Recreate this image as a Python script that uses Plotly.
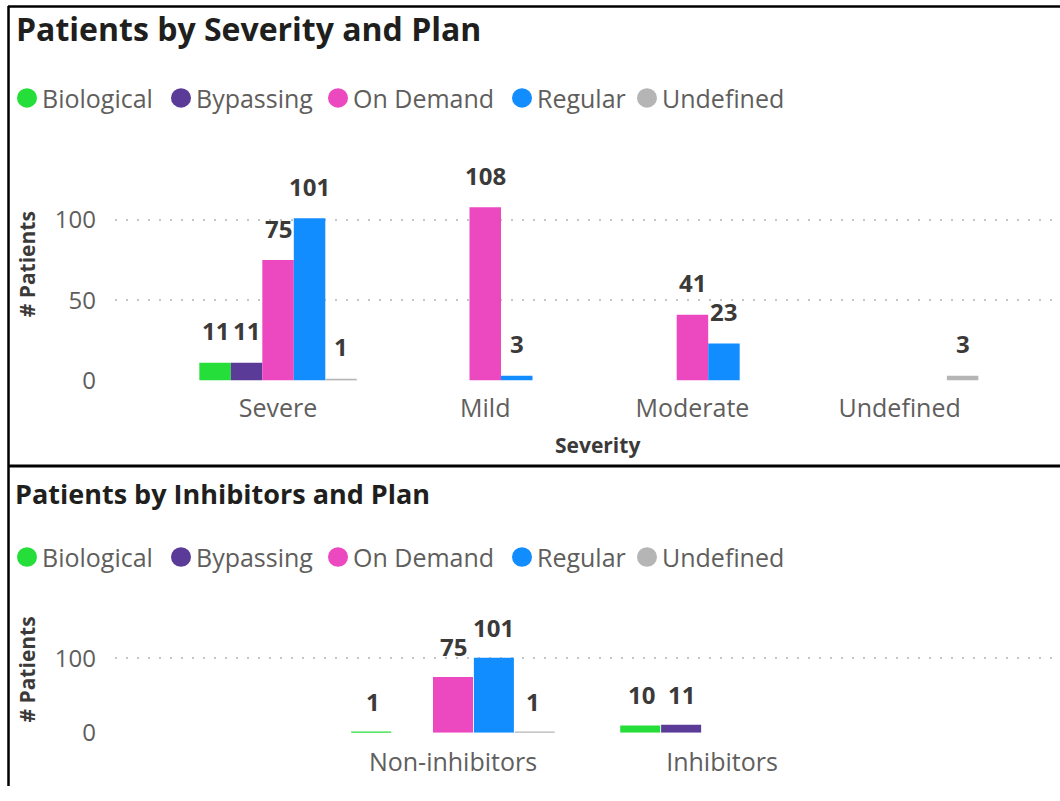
import plotly.graph_objects as go

# ---- data -------------------------------------------------------------
plans = ["Biological", "Bypassing", "On Demand", "Regular", "Undefined"]
plan_colors = ["#26DE3A", "#5B3B98", "#EC48BF", "#118DFF", "#B5B5B5"]

severity = ["Severe", "Mild", "Moderate", "Undefined"]
severity_counts = {
    "Biological": [11, None, None, None],
    "Bypassing":  [11, None, None, None],
    "On Demand":  [75, 108, 41, None],
    "Regular":    [101, 3, 23, None],
    "Undefined":  [1, None, None, 3],
}

inhibitors = ["Non-inhibitors", "Inhibitors"]
inhibitor_counts = {
    "Biological": [1, 10],
    "Bypassing":  [None, 11],
    "On Demand":  [75, None],
    "Regular":    [101, None],
    "Undefined":  [1, None],
}

# ---- styling ----------------------------------------------------------
W, H = 1060, 801
FONT = "Open Sans"
TICK_COLOR = "#605E5C"
LABEL_COLOR = "#3B3A39"
TITLE_COLOR = "#201F1E"
AXIS_TITLE_COLOR = "#3B3A39"
GRID_COLOR = "#C8C6C4"

# horizontal pixel position of each legend swatch
legend_swatch_x = [27, 181, 338, 522, 647]


def px_x(p):
    return p / W


def px_y(p):
    return 1 - p / H


fig = go.Figure()

panels = [
    dict(cats=severity, counts=severity_counts, xa="x", ya="y", gap=0.24,
         label_lift=32, legend_y=98),
    dict(cats=inhibitors, counts=inhibitor_counts, xa="x2", ya="y2", gap=0.256,
         label_lift=30.5, legend_y=567),
]

annotations = []
shapes = []
for panel in panels:
    slot = (1 - panel["gap"]) / len(plans)
    xs = list(range(len(panel["cats"])))
    for k, (plan, color) in enumerate(zip(plans, plan_colors)):
        vals = panel["counts"][plan]
        fig.add_trace(go.Bar(
            x=xs, y=vals, name=plan, marker=dict(color=color, line=dict(width=0)),
            xaxis=panel["xa"], yaxis=panel["ya"], showlegend=False,
            offsetgroup=str(k), width=slot, hoverinfo="skip",
        ))
        # value labels above each bar
        for i, v in zip(xs, vals):
            if v is None:
                continue
            annotations.append(dict(
                x=i + (k - 2) * slot, y=v, xref=panel["xa"], yref=panel["ya"],
                text=f"<b>{v}</b>", showarrow=False, yanchor="middle",
                yshift=panel["label_lift"],
                font=dict(family=FONT, size=24, color=LABEL_COLOR),
            ))
        # legend row: round swatch + plan name
        cx, cy = legend_swatch_x[k], panel["legend_y"]
        shapes.append(dict(
            type="circle", xref="paper", yref="paper",
            x0=px_x(cx - 10), x1=px_x(cx + 10), y0=px_y(cy + 10), y1=px_y(cy - 10),
            fillcolor=color, line=dict(width=0),
        ))
        annotations.append(dict(
            text=plan, x=px_x(cx + 13), y=px_y(cy), xref="paper", yref="paper",
            xanchor="left", yanchor="middle", showarrow=False,
            font=dict(family=FONT, size=25, color=TICK_COLOR),
        ))

fig.update_layout(barmode="group", bargap=0.24)

axis_common = dict(showline=False, zeroline=False, ticks="", fixedrange=True)
fig.update_layout(
    width=W, height=H,
    margin=dict(l=0, r=0, t=0, b=0),
    paper_bgcolor="white", plot_bgcolor="white",
    font=dict(family=FONT, color=TICK_COLOR),
    showlegend=False,
    xaxis=dict(**axis_common, domain=[px_x(115), 1], range=[-0.787, 3.774],
               tickvals=list(range(len(severity))), ticktext=severity,
               showgrid=False, tickfont=dict(size=25, color=TICK_COLOR),
               ticklabelstandoff=11, anchor="y"),
    yaxis=dict(**axis_common, domain=[px_y(386.7), px_y(189.9)], range=[0, 120],
               tickvals=[0, 50, 100], showgrid=True, gridcolor=GRID_COLOR,
               gridwidth=2, griddash="2px,9px",
               tickfont=dict(size=24, color=TICK_COLOR), ticklabelstandoff=18,
               anchor="x"),
    xaxis2=dict(**axis_common, domain=[px_x(115), 1], range=[-1.2565, 2.2565],
                tickvals=list(range(len(inhibitors))), ticktext=inhibitors,
                showgrid=False, tickfont=dict(size=25, color=TICK_COLOR),
                ticklabelstandoff=12, anchor="y2"),
    yaxis2=dict(**axis_common, domain=[px_y(746.7), px_y(655.5)], range=[0, 120],
                tickvals=[0, 100], showgrid=True, gridcolor=GRID_COLOR,
                gridwidth=2, griddash="2px,9px",
                tickfont=dict(size=24, color=TICK_COLOR), ticklabelstandoff=18,
                anchor="x2"),
)

# panel titles and axis titles
titles = [
    dict(text="<b>Patients by Severity and Plan</b>", x=px_x(14), y=px_y(27),
         xanchor="left", yanchor="middle",
         font=dict(size=32, color=TITLE_COLOR, family=FONT)),
    dict(text="<b>Patients by Inhibitors and Plan</b>", x=px_x(13), y=px_y(502),
         xanchor="left", yanchor="middle",
         font=dict(size=27, color=TITLE_COLOR, family=FONT)),
    dict(text="<b># Patients</b>", x=px_x(27), y=px_y(268), textangle=-90,
         xanchor="center", yanchor="middle",
         font=dict(size=21, color=AXIS_TITLE_COLOR, family=FONT)),
    dict(text="<b># Patients</b>", x=px_x(27), y=px_y(682), textangle=-90,
         xanchor="center", yanchor="middle",
         font=dict(size=21, color=AXIS_TITLE_COLOR, family=FONT)),
    dict(text="<b>Severity</b>", x=px_x(597), y=px_y(453),
         xanchor="center", yanchor="middle",
         font=dict(size=21, color=AXIS_TITLE_COLOR, family=FONT)),
]
for a in titles:
    a.update(xref="paper", yref="paper", showarrow=False)
annotations += titles
fig.update_layout(annotations=annotations)

# frame around the two report panels
frame = dict(type="line", xref="paper", yref="paper", line=dict(color="black", width=2.5))
shapes += [
    dict(frame, x0=px_x(8.5), x1=px_x(8.5), y0=0, y1=px_y(4)),
    dict(frame, x0=px_x(8), x1=1, y0=px_y(4.5), y1=px_y(4.5)),
    dict(frame, x0=px_x(8), x1=1, y0=px_y(474), y1=px_y(474),
         line=dict(color="black", width=3)),
]
fig.update_layout(shapes=shapes)

fig.write_html("out.html", config={"displayModeBar": False})
